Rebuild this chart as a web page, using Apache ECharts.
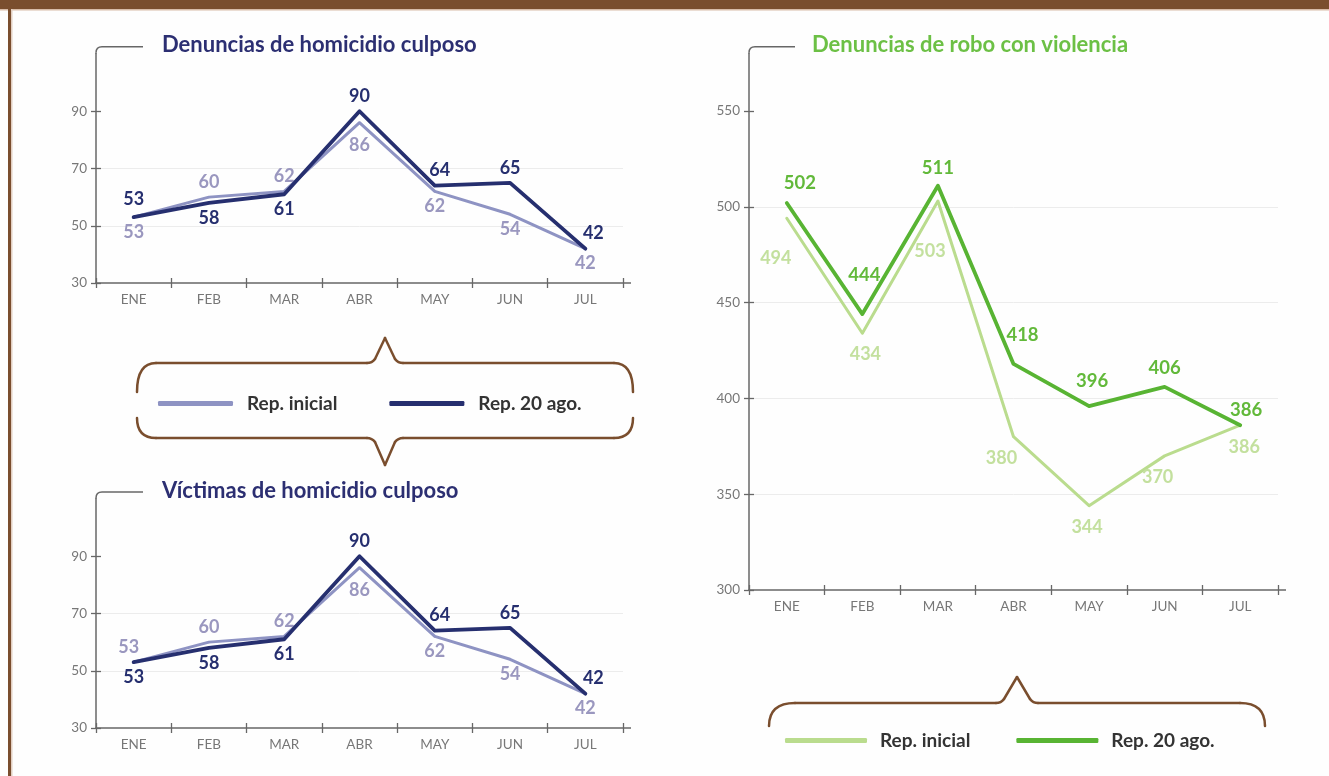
<!DOCTYPE html>
<html><head><meta charset="utf-8">
<script src="https://cdn.jsdelivr.net/npm/echarts@6/dist/echarts.min.js"></script>
<style>html,body{margin:0;padding:0;background:#fefefe}#c{width:1329px;height:776px}</style>
</head><body><div id="c"></div>
<script>
// ---- data ----
const months = ['ENE','FEB','MAR','ABR','MAY','JUN','JUL'];
const denunciasHomInicial = [53,60,62,86,62,54,42];
const denunciasHom20ago   = [53,58,61,90,64,65,42];
const victimasHomInicial  = [53,60,62,86,62,54,42];
const victimasHom20ago    = [53,58,61,90,64,65,42];
const roboInicial = [494,434,503,380,344,370,386];
const robo20ago   = [502,444,511,418,396,406,386];
const homTickLabels  = [30,50,70,90];
const roboTickLabels = [300,350,400,450,500,550];
const titles = ['Denuncias de homicidio culposo','Víctimas de homicidio culposo','Denuncias de robo con violencia'];
const legendNames = ['Rep. inicial','Rep. 20 ago.'];

// ---- label placement (styling) ----
const posDenIni = ['bottom','top','top','bottom','bottom','bottom','bottom'];
const posDen20  = ['top','bottom','bottom','top','top','top','top'];
const posVicIni = ['top','top','top','bottom','bottom','bottom','bottom'];
const posVic20  = ['bottom','bottom','bottom','top','top','top','top'];
const posRoboIni = ['bottom','bottom','bottom','bottom','bottom','bottom','bottom'];
const posRobo20  = ['top','top','top','top','top','top','top'];
const offRoboIni = [[-11,25],[3,6],[-8,35],[-12,6],[-2,6],[-7,6],[4,7]];
const offRobo20  = [[13,-4],[2,-24],[0,-2],[9,-13],[3,-10],[0,-3],[6,0]];
const offDenIni  = [[0,0],[0,0],[0,0],[0,7],[0,0],[0,0],[0,0]];
const offVicIni  = [[-5,0],[0,0],[0,0],[0,7],[0,0],[0,0],[0,0]];
const offDen20   = [[0,-3],[0,0],[0,0],[0,0],[5,0],[0,0],[8,0]];
const offVic20   = [[0,0],[0,0],[0,0],[0,0],[5,0],[0,0],[8,0]];

const NAVY='#262f6f', LILAC='#8e93c3', LILAC_T='#9a97bf';
const GREEN='#58b433', GREEN_T='#62b93a', LGREEN='#badc8e', LGREEN_T='#c3e09e';
const BROWN='#7a4e2e', AXIS='#676767', TXT='#777';
const FONT='Lato';

const grids = [
  {left:96, top:54, width:527, height:229},
  {left:96, top:499, width:527, height:229},
  {left:749, top:53.5, width:529, height:536.5}
];
const yCfg = [
  {min:30,max:110,interval:20,labels:homTickLabels},
  {min:30,max:110,interval:20,labels:homTickLabels},
  {min:300,max:580,interval:50,labels:roboTickLabels}
];

const xAxes=[], yAxes=[];
grids.forEach((g,i)=>{
  xAxes.push({type:'category',gridIndex:i,data:months,boundaryGap:true,position:'bottom',
    axisLine:{onZero:false,lineStyle:{color:AXIS,width:1.5}},
    axisTick:{show:true,length:5,lineStyle:{color:AXIS,width:1.3}},
    axisLabel:{color:TXT,fontSize:13.5,fontFamily:FONT,margin:10},
    splitLine:{show:false}});
  const c=yCfg[i];
  yAxes.push({type:'value',gridIndex:i,min:c.min,max:c.max,interval:c.interval,
    axisLine:{show:true,lineStyle:{color:AXIS,width:1.5}},
    axisTick:{show:true,length:5,customValues:c.labels,lineStyle:{color:AXIS,width:1.3}},
    axisLabel:{color:TXT,fontSize:13.5,fontFamily:FONT,margin:9,customValues:c.labels},
    splitLine:{show:true,showMinLine:false,showMaxLine:false,lineStyle:{color:'#ececec',width:1}}});
});
// second set of axes only for the inward half of the crossing ticks
grids.forEach((g,i)=>{
  xAxes.push({type:'category',gridIndex:i,data:months,boundaryGap:true,position:'bottom',
    axisLine:{show:false,onZero:false},axisLabel:{show:false},splitLine:{show:false},
    axisTick:{show:true,inside:true,length:5,lineStyle:{color:AXIS,width:1.3}}});
  const c=yCfg[i];
  yAxes.push({type:'value',gridIndex:i,min:c.min,max:c.max,interval:c.interval,position:'left',
    axisLine:{show:false},axisLabel:{show:false},splitLine:{show:false},
    axisTick:{show:true,inside:true,length:5,customValues:c.labels,lineStyle:{color:AXIS,width:1.3}}});
});

function mk(name, values, gi, color, width, tcolor, pos, off, z, fs){
  return {type:'line', name, xAxisIndex:gi, yAxisIndex:gi, z,
    symbol:'circle', symbolSize:2, showSymbol:true,
    itemStyle:{color}, lineStyle:{color,width,cap:'round',join:'round'},
    emphasis:{disabled:true},
    label:{show:true,fontFamily:FONT,fontWeight:'bold',fontSize:fs,color:tcolor,distance:5},
    data:values.map((v,i)=>({value:v,label:{position:pos[i],offset:off?off[i]:[0,0]}}))};
}

const series=[
  mk(legendNames[0], denunciasHomInicial, 0, LILAC, 3, LILAC_T, posDenIni, offDenIni, 2, 18),
  mk(legendNames[1], denunciasHom20ago, 0, NAVY, 3.8, NAVY, posDen20, offDen20, 3, 18),
  mk(legendNames[0], victimasHomInicial, 1, LILAC, 3, LILAC_T, posVicIni, offVicIni, 2, 18),
  mk(legendNames[1], victimasHom20ago, 1, NAVY, 3.8, NAVY, posVic20, offVic20, 3, 18),
  mk(legendNames[0]+' ', roboInicial, 2, LGREEN, 3, LGREEN_T, posRoboIni, offRoboIni, 2, 18),
  mk(legendNames[1]+' ', robo20ago, 2, GREEN, 3.8, GREEN_T, posRobo20, offRobo20, 3, 18.5)
];

const titleStyle=(color)=>({color,fontFamily:FONT,fontWeight:'bold',fontSize:22});
const title=[
  {text:titles[0],left:162,top:34,padding:0,textStyle:titleStyle('#2c2f72')},
  {text:titles[1],left:162,top:480,padding:0,textStyle:titleStyle('#2c2f72')},
  {text:titles[2],left:812,top:34,padding:0,textStyle:titleStyle('#6cc045')}
];

const legTxt={color:'#333',fontFamily:FONT,fontWeight:'bold',fontSize:19};
const legend=[
  {data:legendNames,left:158,top:394,padding:0,icon:'roundRect',itemWidth:75,itemHeight:5,itemGap:52,
   selectedMode:false,textStyle:Object.assign({padding:[0,0,0,9]},legTxt)},
  {data:legendNames.map(n=>n+' '),left:785,top:731,padding:0,icon:'roundRect',itemWidth:82,itemHeight:5,itemGap:46,
   selectedMode:false,formatter:n=>n.trim(),textStyle:Object.assign({padding:[0,0,0,8]},legTxt)}
];

// decorative frame, axis corners and braces built from line / quadratic curve segments
function seg(p, style){
  const out=[]; let cur=p[0];
  for(let i=1;i<p.length;i++){
    const s=p[i];
    if(s.length===4){
      out.push({type:'bezierCurve',shape:{x1:cur[0],y1:cur[1],cpx1:s[0],cpy1:s[1],x2:s[2],y2:s[3]},style:Object.assign({fill:'none'},style)});
      cur=[s[2],s[3]];
    } else {
      out.push({type:'line',shape:{x1:cur[0],y1:cur[1],x2:s[0],y2:s[1]},style:Object.assign({},style)});
      cur=s;
    }
  }
  return out;
}
const axisStyle={stroke:AXIS,lineWidth:1.5};
function corner(g, yh, x1){
  const x0=g.left, yt=g.top;
  return seg([[x0,yt],[x0,yh+6],[x0,yh,x0+6,yh],[x1,yh]],axisStyle);
}
function xExt(g){
  const y=g.top+g.height, x=g.left+g.width;
  return seg([[x,y],[x+8,y]],axisStyle);
}
const braceStyle={stroke:BROWN,lineWidth:2.5,lineCap:'round'};
const graphic=[
  {type:'rect',shape:{x:0,y:0,width:1329,height:9},style:{fill:BROWN},z:10},
  {type:'rect',shape:{x:0,y:9,width:1329,height:1.5},style:{fill:'#d8bca8'},z:10},
  {type:'rect',shape:{x:8,y:9,width:3,height:767},style:{fill:BROWN},z:10},
  {type:'rect',shape:{x:11,y:9,width:1.5,height:767},style:{fill:'#e2cfc2'},z:10}
].concat(
  corner(grids[0],46.7,143), corner(grids[1],492,143), corner(grids[2],46.7,795),
  xExt(grids[0]), xExt(grids[1]), xExt(grids[2]),
  seg([[137,392],[137,363,156,363],[367,363],[372,363,375,359],[385,338],[395,359],[398,363,403,363],[614,363],[633,363,633,392]],braceStyle),
  seg([[137,418],[137,438,156,438],[367,438],[372,438,375,442],[385,465],[395,442],[398,438,403,438],[614,438],[633,438,633,418]],braceStyle),
  seg([[769,726],[769,703,795,703],[996,703],[1001,703,1004,699],[1017,677],[1030,699],[1033,703,1038,703],[1240,703],[1265,703,1265,726]],braceStyle)
);

const chart=echarts.init(document.getElementById('c'),null,{renderer:'canvas'});
chart.setOption({animation:false,backgroundColor:'#fefefe',title,legend,grid:grids,xAxis:xAxes,yAxis:yAxes,series,graphic,tooltip:{show:false}});
</script></body></html>
